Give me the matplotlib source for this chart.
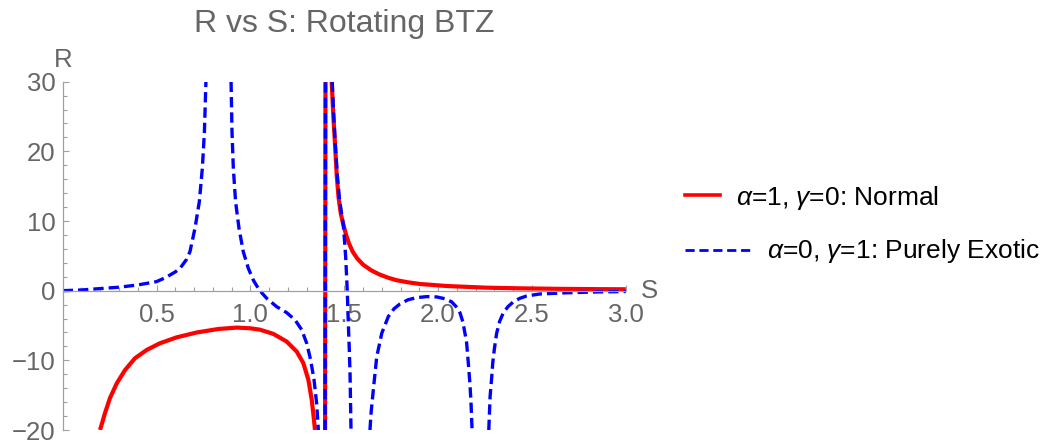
import numpy as np
import matplotlib.pyplot as plt
from matplotlib.lines import Line2D
from matplotlib.ticker import FixedLocator, MultipleLocator

plt.rcParams['font.family'] = ['Liberation Sans', 'DejaVu Sans']
plt.rcParams['mathtext.fontset'] = 'custom'
plt.rcParams['mathtext.rm'] = 'Liberation Sans'
plt.rcParams['mathtext.it'] = 'Liberation Sans:italic'

nan = np.nan

# alpha=1, gamma=0 (normal), nan splits the branches
normal_s = [0.199, 0.225, 0.252, 0.288, 0.332, 0.385, 0.448, 0.518, 0.607, 0.714,
            0.829, 0.927, 1.000, 1.051, 1.122, 1.193, 1.247, 1.282, 1.309, 1.327,
            1.339, 1.344, nan,
            1.398, 1.400, nan,
            1.433, 1.442, 1.451, 1.460, 1.470, 1.482, 1.495, 1.510, 1.525, 1.545,
            1.570, 1.602, 1.645, 1.690, 1.735, 1.779, 1.840, 1.904, 2.046, 2.259,
            2.45, 2.65, 2.85, 3.0]
normal_r = [-20.0, -17.6, -15.4, -13.3, -11.4, -9.7, -8.5, -7.55, -6.7, -6.0,
            -5.5, -5.3, -5.4, -5.6, -6.2, -7.3, -8.75, -10.4, -12.8, -15.7,
            -18.6, -20.0, nan,
            -20.0, 30.0, nan,
            30.0, 25.0, 21.0, 16.5, 13.3, 11.0, 9.5, 8.0, 6.8, 5.6,
            4.6, 3.7, 2.9, 2.3, 1.85, 1.5, 1.2, 0.96, 0.67, 0.43,
            0.33, 0.26, 0.22, 0.2]

# alpha=0, gamma=1 (purely exotic)
exotic_s = [0.0, 0.1, 0.2, 0.3, 0.4, 0.5, 0.55, 0.6, 0.625, 0.66, 0.678, 0.705,
            0.728, 0.744, 0.755, 0.763, nan,
            0.897, 0.902, 0.909, 0.921, 0.939, 0.962, 0.989, 1.016, 1.047, 1.087,
            1.140, 1.193, 1.238, 1.273, 1.300, 1.321, 1.339, 1.353, 1.362, nan,
            1.398, 1.400, nan,
            1.436, 1.442, 1.452, 1.463, 1.474, 1.486, 1.495, 1.502, 1.508, 1.516,
            1.522, 1.527, 1.531, 1.536, nan,
            1.637, 1.643, 1.655, 1.673, 1.700, 1.735, 1.765, 1.797, 1.840, 1.886,
            1.940, 1.993, 2.035, 2.072, 2.100, 2.117, 2.132, 2.143, 2.152, 2.161,
            2.170, 2.176, 2.181, nan,
            2.270, 2.273, 2.277, 2.286, 2.291, 2.300, 2.312, 2.328, 2.347, 2.372,
            2.401, 2.435, 2.472, 2.543, 2.685, 2.85, 3.0]
exotic_r = [0.0, 0.1, 0.3, 0.5, 0.82, 1.3, 1.9, 2.7, 3.2, 4.5, 5.6, 9.0,
            12.8, 17.6, 22.8, 30.0, nan,
            30.0, 22.8, 17.6, 12.8, 9.0, 5.6, 3.2, 1.5, 0.1, -1.1,
            -2.3, -3.15, -4.2, -5.6, -7.55, -9.95, -12.8, -16.2, -20.0, nan,
            -20.0, 30.0, nan,
            30.0, 26.2, 21.0, 16.6, 13.3, 11.0, 9.5, 7.0, 4.65, 0.0,
            -4.9, -8.5, -12.1, -20.0, nan,
            -20.0, -17.5, -14.2, -9.5, -6.1, -3.7, -2.6, -1.9, -1.3, -1.0,
            -0.85, -0.9, -1.15, -1.6, -2.4, -3.2, -4.5, -6.1, -7.5, -10.4,
            -13.5, -16.5, -20.0, nan,
            -20.0, -18.0, -15.2, -12.3, -10.4, -8.3, -6.1, -4.4, -3.2, -2.3,
            -1.6, -1.1, -0.76, -0.47, -0.3, -0.18, -0.12]

x_ticks = [0.5, 1.0, 1.5, 2.0, 2.5, 3.0]
y_ticks = [-20, -10, 0, 10, 20, 30]

W, H = 1060, 441
gray_axis = '#a0a0a0'
gray_text = '#666666'

fig = plt.figure(figsize=(W / 100, H / 100), dpi=100)
ax = fig.add_axes([62.7 / W, 11 / H, 563.1 / W, 348.3 / H])

ax.plot(normal_s, normal_r, color='#ff0000', lw=3.0, solid_capstyle='butt')
ax.plot(exotic_s, exotic_r, color='#0000ff', lw=2.4, linestyle=(0, (3.1, 1.5)))

ax.set_xlim(0, 3)
ax.set_ylim(-20, 30)

# Mathematica style axes crossing at the origin
for side in ['top', 'right']:
    ax.spines[side].set_visible(False)
ax.spines['bottom'].set_position(('data', 0))
for side in ['bottom', 'left']:
    ax.spines[side].set_color(gray_axis)
    ax.spines[side].set_linewidth(0.9)

ax.xaxis.set_major_locator(FixedLocator(x_ticks))
ax.xaxis.set_minor_locator(MultipleLocator(0.1))
ax.yaxis.set_major_locator(FixedLocator(y_ticks))
ax.yaxis.set_minor_locator(MultipleLocator(2))
ax.set_xticklabels([f'{v:.1f}' for v in x_ticks])
ax.set_yticklabels([str(v).replace('-', '\u2212') for v in y_ticks])

ax.tick_params(which='both', direction='in', color=gray_axis, width=0.8,
               labelcolor=gray_text, labelsize=18.5)
ax.tick_params(which='major', length=4.5)
ax.tick_params(which='minor', length=2.6)
ax.tick_params(axis='x', pad=9)
ax.tick_params(axis='y', pad=5)

# axis labels at the ends of the axes
ax.annotate('S', xy=(1, 0), xycoords=ax.get_yaxis_transform(),
            xytext=(11, 0), textcoords='offset points',
            ha='left', va='center', fontsize=18.5, color=gray_text)
ax.annotate('R', xy=(0, 1), xycoords='axes fraction',
            xytext=(0, 10.5), textcoords='offset points',
            ha='center', va='baseline', fontsize=18.5, color=gray_text)

fig.text(344 / W, 1 - 32.3 / H, 'R vs S: Rotating BTZ', ha='center',
         va='baseline', fontsize=23, color=gray_text)

# legend, drawn by hand like Mathematica's
fig.add_artist(Line2D([685 / W, 720 / W], [1 - 195 / H, 1 - 195 / H],
                      transform=fig.transFigure, color='#ff0000', lw=2.6))
fig.text(736 / W, 1 - 205.5 / H, r'$\alpha$=1, $\gamma$=0: Normal',
         ha='left', va='baseline', fontsize=19, color='black')
fig.add_artist(Line2D([685 / W, 750 / W], [1 - 250 / H, 1 - 250 / H],
                      transform=fig.transFigure, color='#0000ff', lw=2.0,
                      linestyle=(0, (3.3, 1.7))))
fig.text(766.7 / W, 1 - 258.3 / H, r'$\alpha$=0, $\gamma$=1: Purely Exotic',
         ha='left', va='baseline', fontsize=19, color='black')

fig.savefig('out.png', dpi=100)
